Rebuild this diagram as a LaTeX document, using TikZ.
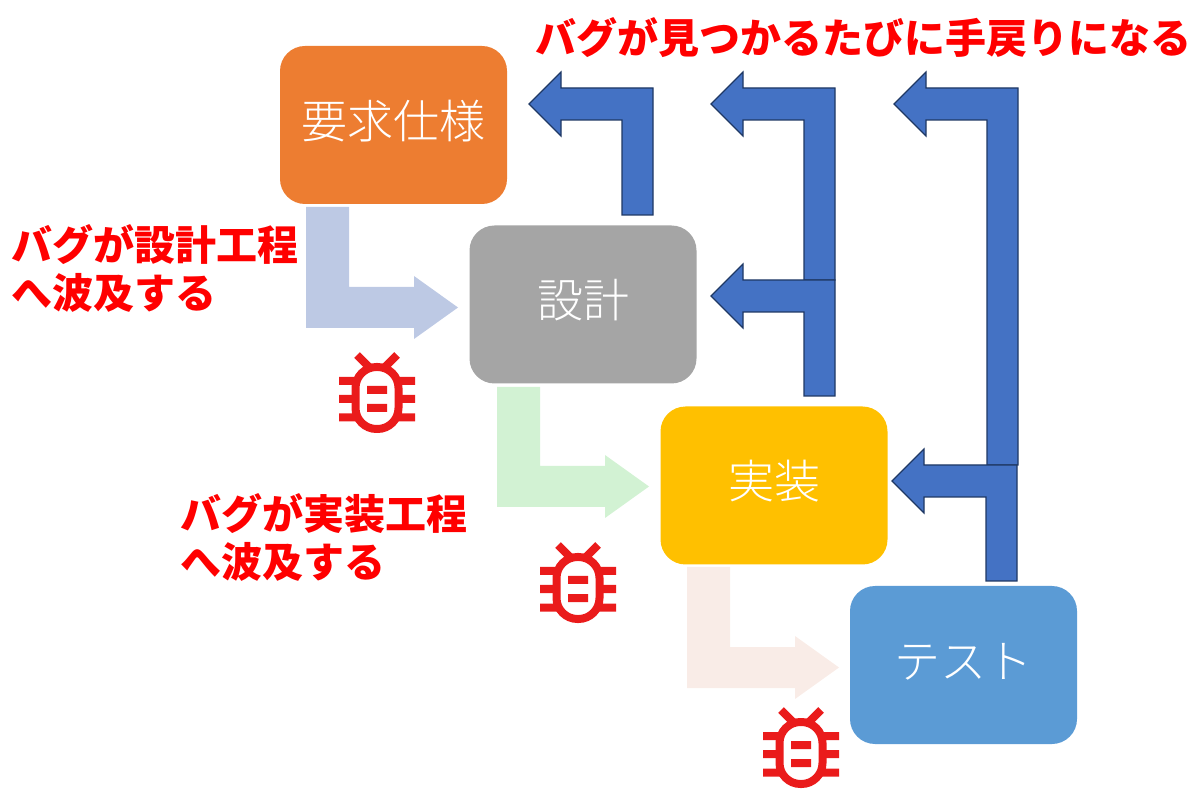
\documentclass[tikz,border=0pt]{standalone}
\usepackage{fontspec}
\setmainfont{Noto Sans CJK JP}
\newfontfamily\jplight{Noto Sans CJK JP Light}
\definecolor{boxorange}{HTML}{ED7D31}
\definecolor{boxgray}{HTML}{A5A5A5}
\definecolor{boxyellow}{HTML}{FFC000}
\definecolor{boxblue}{HTML}{5B9BD5}
\definecolor{backfill}{HTML}{4472C4}
\definecolor{backline}{HTML}{1F3864}
\definecolor{flowblue}{HTML}{BDC9E4}
\definecolor{flowgreen}{HTML}{D2F2D3}
\definecolor{flowrose}{HTML}{F9ECE7}
\definecolor{bugred}{HTML}{EA1B1B}
\tikzset{
  stage/.style={rounded corners=12.5pt,minimum width=113.5pt,minimum height=79pt,
    inner sep=0pt,text=white,text height=16pt,text depth=2.6pt,
    font=\fontsize{23pt}{26pt}\selectfont\jplight},
  note/.style={anchor=west,align=left,inner sep=0pt,text=red,
    font=\fontsize{20.5pt}{24pt}\selectfont\bfseries},
  backarrow/.style={fill=backfill,draw=backline,line width=0.6pt,line join=miter},
  bugline/.style={draw=bugred,line width=4pt,line cap=butt},
  pics/bug/.style={code={
    \draw[bugline,rounded corners=10.5pt] (-21.5,-25) rectangle (21.5,37);
    \draw[bugline] (-38,-11) -- (-21,-11) (21,-11) -- (38,-11)
      (-38,7) -- (-21,7) (21,7) -- (38,7)
      (-38,25.5) -- (-21,25.5) (21,25.5) -- (38,25.5)
      (-10,-2) -- (10,-2) (-10,16) -- (10,16)
      (-20,-37) -- (-8,-25) (20,-37) -- (8,-25);
  }}
}
% Forward flow arrow: tail box on top, runs down, turns right into a head
\newcommand{\flowarrow}[4]{%
  % #1 colour, #2 left x of tail, #3 top y of tail, #4 top y of horizontal shaft
  \fill[#1] (#2,#3) -- (#2+43,#3) -- (#2+43,#4) -- (#2+108,#4) -- (#2+108,#4-11)
    -- (#2+152,#4+20.5) -- (#2+108,#4+52) -- (#2+108,#4+41) -- (#2,#4+41) -- cycle;
}
% Return arrow: rises from below, turns left into a head
\newcommand{\returnarrow}[4]{%
  % #1 tip x, #2 tip y, #3 outer right x, #4 bottom y
  \path[backarrow] (#1,#2) -- (#1+32,#2-32) -- (#1+32,#2-16) -- (#3,#2-16)
    -- (#3,#4) -- (#3-31,#4) -- (#3-31,#2+16) -- (#1+32,#2+16) -- (#1+32,#2+32) -- cycle;
}
\begin{document}
\begin{tikzpicture}[x=0.5pt,y=-0.5pt]
\useasboundingbox (0,0) rectangle (1200,807);

% Process stages
\node[stage,fill=boxorange] (req)  at (393.5,125) {要求仕様};
\node[stage,fill=boxgray]   (des)  at (583,304.5) {設計};
\node[stage,fill=boxyellow] (impl) at (774,485.5) {実装};
\node[stage,fill=boxblue]   (test) at (963.5,665) {テスト};

% Defects carried forward
\flowarrow{flowblue}{306}{207}{287}
\flowarrow{flowgreen}{497}{387}{466}
\flowarrow{flowrose}{687}{567}{647}

% Rework loops, long ones first so the branches sit on top
\returnarrow{529}{104}{653}{215}
\returnarrow{711}{104}{835}{280}
\returnarrow{894}{104}{1018}{465}
\returnarrow{711}{296}{835}{396}
\returnarrow{892}{481}{1017}{581}

% Bug marks
\pic at (377,392) {bug};
\pic at (578,582) {bug};
\pic at (801,747) {bug};

% Annotations
\node[note] (rework) at (535,38) {バグが見つかるたびに手戻りになる};
\node[note] (spread1) at (11,268) {バグが設計工程\\へ波及する};
\node[note] (spread2) at (180,537) {バグが実装工程\\へ波及する};
\end{tikzpicture}
\end{document}
